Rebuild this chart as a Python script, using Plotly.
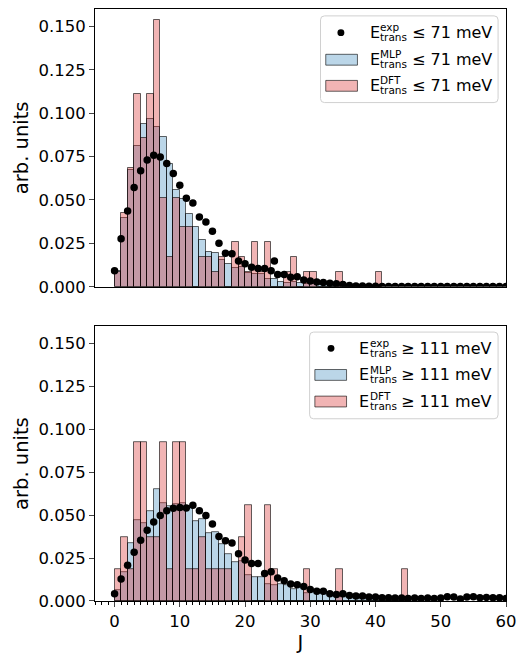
import plotly.graph_objects as go

# ---------------- data ----------------
bins_top = list(range(0, 41))
mlp_top = [0.0092, 0.0396, 0.0672, 0.0810, 0.0935, 0.0965, 0.0920, 0.0862, 0.0710, 0.0556,
           0.0508, 0.0421, 0.0346, 0.0271, 0.0199, 0.0192, 0.0155, 0.0133, 0.0110, 0.0112,
           0.0078, 0.0076, 0.0076, 0.0042, 0.0044, 0.0030, 0.0022, 0.0028, 0.0023, 0.0014,
           0.0014, 0.0012, 0.0010, 0.0008, 0.0006, 0.0006, 0.0, 0.0, 0.0004, 0.0, 0.0]
dft_top = [0.0085, 0.0427, 0.0684, 0.1111, 0.0855, 0.1111, 0.1538, 0.0513, 0.0171, 0.0513,
           0.0342, 0.0342, 0.0, 0.0171, 0.0171, 0.0085, 0.0171, 0.0, 0.0256, 0.0171,
           0.0085, 0.0256, 0.0085, 0.0256, 0.0, 0.0, 0.0085, 0.0171, 0.0, 0.0085,
           0.0085, 0.0, 0.0, 0.0, 0.0085, 0.0, 0.0, 0.0, 0.0, 0.0, 0.0085]
exp_top_J = [0, 1, 2, 3, 4, 5, 6, 7, 8, 9, 10, 11, 12, 13, 14, 15, 16, 17, 18, 19, 20,
             21, 22, 23, 24, 24.5, 25, 26, 27, 28, 29, 30, 31, 32, 33, 34, 35, 36,
             37, 38, 39, 40, 41, 42, 43, 44, 45, 46, 47, 48, 49, 50, 51, 52, 53, 54,
             55, 56, 57, 58, 59, 60]
exp_top = [0.0093, 0.0276, 0.0437, 0.0572, 0.0669, 0.0730, 0.0758, 0.0748, 0.0710, 0.0652,
           0.0585, 0.0510, 0.0483, 0.0402, 0.0373, 0.0320, 0.0251, 0.0193, 0.0190, 0.0148,
           0.0132, 0.0112, 0.0105, 0.0105, 0.0092, 0.0148, 0.0070, 0.0070, 0.0055, 0.0058,
           0.0039, 0.0033, 0.0028, 0.0024, 0.0020, 0.0018, 0.0013, 0.0008,
           0.0005, 0.0004, 0.0003, 0.0003, 0.0002, 0.0002, 0.0002, 0.0002, 0.0001, 0.0001,
           0.0001, 0.0001, 0.0001, 0.0001, 0.0001, 0.0001, 0.0001, 0.0001, 0.0001, 0.0001,
           0.0001, 0.0001, 0.0001, 0.0001]

bins_bot = list(range(0, 45))
mlp_bot = [0.0061, 0.0166, 0.0336, 0.0471, 0.0452, 0.0523, 0.0650, 0.0572, 0.0551, 0.0563,
           0.0567, 0.0548, 0.0466, 0.0475, 0.0395, 0.0399, 0.0332, 0.0275, 0.0227, 0.0233,
           0.0151, 0.0141, 0.0141, 0.0099, 0.0095, 0.0099, 0.0090, 0.0067, 0.0080, 0.0046,
           0.0055, 0.0050, 0.0040, 0.0030, 0.0025, 0.0020, 0.0015, 0.0010, 0.0010, 0.0008,
           0.0005, 0.0, 0.0, 0.0, 0.0]
dft_bot = [0.0185, 0.0370, 0.0185, 0.0926, 0.0926, 0.0370, 0.0370, 0.0926, 0.0185, 0.0926,
           0.0926, 0.0185, 0.0185, 0.0370, 0.0185, 0.0185, 0.0185, 0.0185, 0.0, 0.0370,
           0.0556, 0.0, 0.0, 0.0556, 0.0185, 0.0, 0.0, 0.0, 0.0, 0.0185,
           0.0, 0.0, 0.0, 0.0, 0.0185, 0.0, 0.0, 0.0, 0.0, 0.0,
           0.0, 0.0, 0.0, 0.0, 0.0185]
exp_bot_J = list(range(0, 61))
exp_bot = [0.0042, 0.0128, 0.0208, 0.0284, 0.0353, 0.0412, 0.0460, 0.0498, 0.0525, 0.0540,
           0.0544, 0.0542, 0.0557, 0.0525, 0.0498, 0.0448, 0.0376, 0.0351, 0.0338, 0.0275,
           0.0239, 0.0219, 0.0218, 0.0160, 0.0170, 0.0134, 0.0118, 0.0099, 0.0095, 0.0084,
           0.0067, 0.0057, 0.0057, 0.0042, 0.0038, 0.0042, 0.0032, 0.0029, 0.0029, 0.0023,
           0.0023, 0.0019, 0.0019, 0.0017, 0.0017, 0.0015, 0.0017, 0.0015, 0.0017, 0.0015,
           0.0017, 0.0025, 0.0023, 0.0012, 0.0023, 0.0025, 0.0019, 0.0021, 0.0019, 0.0019,
           0.0015]

y_ticks = [0.0, 0.025, 0.05, 0.075, 0.1, 0.125, 0.15]
x_ticks = [0, 10, 20, 30, 40, 50, 60]
x_minor_ticks = list(range(-3, 40))
top_labels = ["exp", "MLP", "DFT"]
top_suffix = "≤ 71 meV"
bot_suffix = "≥ 111 meV"

# ---------------- style ----------------
FONT = "DejaVu Sans"
BLUE_FILL = "rgba(31,119,180,0.30)"
RED_FILL = "rgba(214,39,40,0.35)"
EDGE = "rgba(0,0,0,0.6)"

W, H = 525, 656
ML, MR, MT, MB = 95, 15, 8, 47
PW, PH = W - ML - MR, H - MT - MB


def PX(x):
    return (x - ML) / PW


def PY(y):
    return (H - MB - y) / PH


top_dom = [PY(290), 1.0]
bot_dom = [0.0, PY(330)]

fig = go.Figure()


def add_panel(bins, mlp, dft, ej, ev, xa, ya):
    fig.add_trace(go.Bar(x=bins, y=mlp, width=1, offset=0, xaxis=xa, yaxis=ya,
                         marker=dict(color=BLUE_FILL, line=dict(color=EDGE, width=1)),
                         showlegend=False))
    fig.add_trace(go.Bar(x=bins, y=dft, width=1, offset=0, xaxis=xa, yaxis=ya,
                         marker=dict(color=RED_FILL, line=dict(color=EDGE, width=1)),
                         showlegend=False))
    fig.add_trace(go.Scatter(x=ej, y=ev, mode="markers", xaxis=xa, yaxis=ya, cliponaxis=True,
                             marker=dict(color="black", size=7.5), showlegend=False))


add_panel(bins_top, mlp_top, dft_top, exp_top_J, exp_top, "x", "y")
add_panel(bins_bot, mlp_bot, dft_bot, exp_bot_J, exp_bot, "x2", "y2")

axis_common = dict(showline=True, linecolor="black", linewidth=1, mirror=True,
                   showgrid=False, zeroline=False,
                   tickfont=dict(family=FONT, size=16.5, color="black"))

fig.update_layout(
    width=W, height=H,
    margin=dict(l=ML, r=MR, t=MT, b=MB),
    plot_bgcolor="white", paper_bgcolor="white",
    barmode="overlay", bargap=0,
    font=dict(family=FONT, color="black"),
    xaxis=dict(domain=[0, 1], range=[-3, 60], anchor="y", matches="x2",
               showticklabels=False, ticks="", **axis_common),
    yaxis=dict(domain=top_dom, range=[0, 0.16], anchor="x", tickvals=y_ticks,
               tickformat=".3f", ticks="outside", ticklen=5, tickwidth=1,
               title=dict(text="arb. units", font=dict(family=FONT, size=19.5), standoff=4),
               **axis_common),
    xaxis2=dict(domain=[0, 1], range=[-3, 60], anchor="y2", tickvals=x_ticks,
                ticks="outside", ticklen=5, tickwidth=1,
                minor=dict(tickvals=x_minor_ticks, ticks="outside", ticklen=3, tickwidth=1,
                           tickcolor="black", showgrid=False),
                title=dict(text="J", font=dict(family=FONT, size=19.5), standoff=4),
                **axis_common),
    yaxis2=dict(domain=bot_dom, range=[0, 0.16], anchor="x2", tickvals=y_ticks,
                tickformat=".3f", ticks="outside", ticklen=5, tickwidth=1,
                title=dict(text="arb. units", font=dict(family=FONT, size=19.5), standoff=4),
                **axis_common),
)

# ---------------- custom legends ----------------
shapes = []
annotations = []


def rounded_box(x0, y0, x1, y1, r=4):
    X0, X1 = PX(x0), PX(x1)
    Y0, Y1 = PY(y1), PY(y0)  # bottom, top in paper
    rx, ry = r / PW, r / PH
    p = (f"M {X0+rx},{Y1} L {X1-rx},{Y1} Q {X1},{Y1} {X1},{Y1-ry} "
         f"L {X1},{Y0+ry} Q {X1},{Y0} {X1-rx},{Y0} L {X0+rx},{Y0} "
         f"Q {X0},{Y0} {X0},{Y0+ry} L {X0},{Y1-ry} Q {X0},{Y1} {X0+rx},{Y1} Z")
    return dict(type="path", path=p, xref="paper", yref="paper",
                fillcolor="rgba(255,255,255,0.8)", line=dict(color="#d0d0d0", width=1),
                layer="above")


def ann(x, y, text, size):
    return dict(x=PX(x), y=PY(y), xref="paper", yref="paper", text=text,
                showarrow=False, xanchor="left", yanchor="middle", borderpad=0,
                font=dict(family=FONT, size=size, color="black"))


def legend(box, dot_x, patch_x, e_x, sym_x, rows_y, suffix):
    shapes.append(rounded_box(*box))
    r = 3.5
    shapes.append(dict(type="circle", xref="paper", yref="paper",
                       x0=PX(dot_x - r), x1=PX(dot_x + r), y0=PY(rows_y[0] + r), y1=PY(rows_y[0] - r),
                       fillcolor="black", line=dict(color="black", width=0), layer="above"))
    for yy, fill in zip(rows_y[1:], [BLUE_FILL, RED_FILL]):
        shapes.append(dict(type="rect", xref="paper", yref="paper",
                           x0=PX(patch_x), x1=PX(patch_x + 32), y0=PY(yy + 5.5), y1=PY(yy - 5.5),
                           fillcolor="white", line=dict(width=0), layer="above"))
        shapes.append(dict(type="rect", xref="paper", yref="paper",
                           x0=PX(patch_x), x1=PX(patch_x + 32), y0=PY(yy + 5.5), y1=PY(yy - 5.5),
                           fillcolor=fill, line=dict(color=EDGE, width=1), layer="above"))
    for yy, lab in zip(rows_y, top_labels):
        annotations.append(ann(e_x - 1, yy, "E", 16))
        annotations.append(ann(e_x + 9.5, yy - 5.5, lab, 10.5))
        annotations.append(ann(e_x + 9.5, yy + 4.5, "trans", 10.5))
        annotations.append(ann(sym_x, yy, suffix, 16))


legend((322.7, 15, 502, 103), 343.3, 328, 372.7, 414, [32, 59.5, 86], top_suffix)
legend((311.7, 336, 502, 424), 333.3, 317, 361.7, 402.5, [352.5, 379.5, 406.5], bot_suffix)

fig.update_layout(shapes=shapes, annotations=annotations)

fig.write_html("out.html")
